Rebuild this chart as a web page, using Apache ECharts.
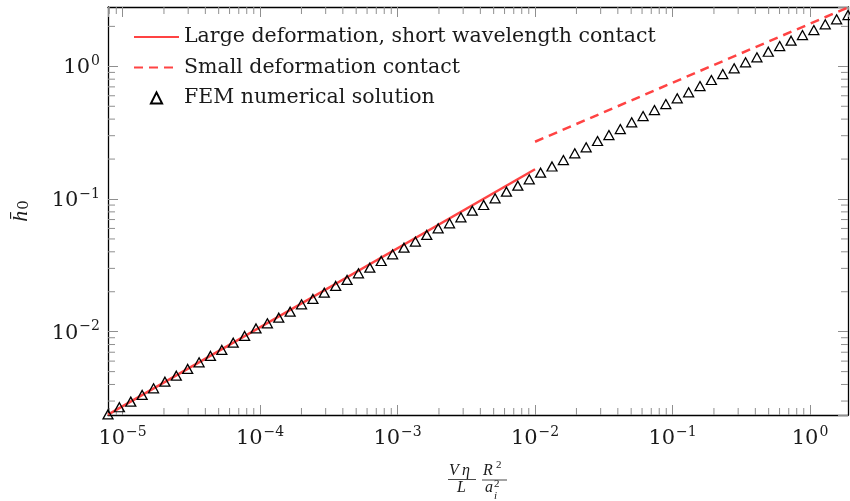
<!DOCTYPE html>
<html>
<head>
<meta charset="utf-8">
<script src="https://cdn.jsdelivr.net/npm/echarts@6/dist/echarts.min.js"></script>
<style>html,body{margin:0;padding:0;background:#fff;}#c{width:850px;height:501px;}</style>
</head>
<body>
<div id="c"></div>
<script>
// ---- data ----
const xMin = 7.834e-6, xMax = 1.888;
const yMin = 0.002355, yMax = 2.80;

const largeX = [7.834e-6, 1.0e-2];
const largeY = [0.00237, 0.1675];

const smallX = [1.0e-2, 1.888];
const smallY = [0.270, 2.78];

const femX = [7.834e-6, 9.480e-6, 1.1471e-5, 1.3880e-5, 1.6795e-5, 2.0324e-5, 2.4593e-5, 2.9758e-5, 3.6009e-5, 4.3573e-5,
  5.2723e-5, 6.3797e-5, 7.7197e-5, 9.341e-5, 1.1303e-4, 1.3677e-4, 1.6550e-4, 2.0026e-4, 2.4233e-4, 2.9322e-4,
  3.5481e-4, 4.2934e-4, 5.1952e-4, 6.2864e-4, 7.6068e-4, 9.2045e-4, 1.1138e-3, 1.3477e-3, 1.6308e-3, 1.9733e-3,
  2.3878e-3, 2.8894e-3, 3.4963e-3, 4.2306e-3, 5.1192e-3, 6.1944e-3, 7.4955e-3, 9.0700e-3, 1.0975e-2, 1.3280e-2,
  1.6069e-2, 1.9445e-2, 2.3529e-2, 2.8471e-2, 3.4452e-2, 4.1687e-2, 5.0444e-2, 6.1039e-2, 7.3859e-2, 8.9373e-2,
  0.10814, 0.13086, 0.15834, 0.19160, 0.23185, 0.28054, 0.33946, 0.41077, 0.49704, 0.60144,
  0.72778, 0.88064, 1.0656, 1.2894, 1.5603, 1.8880];
const femY = [0.002377, 0.002694, 0.002969, 0.003334, 0.003745, 0.004198, 0.004660, 0.005235, 0.005880, 0.006559,
  0.007278, 0.008265, 0.009281, 0.01057, 0.01157, 0.01275, 0.01415, 0.01609, 0.01764, 0.01967,
  0.02211, 0.02453, 0.02755, 0.03036, 0.03410, 0.03831, 0.04296, 0.04782, 0.05355, 0.06015,
  0.06559, 0.07278, 0.08162, 0.09011, 0.1012, 0.1135, 0.1260, 0.1407, 0.1578, 0.1758,
  0.1967, 0.2211, 0.2453, 0.2736, 0.3036, 0.3369, 0.3784, 0.4221, 0.4685, 0.5198,
  0.5740, 0.6369, 0.7102, 0.7887, 0.8749, 0.9659, 1.072, 1.169, 1.288, 1.422,
  1.559, 1.722, 1.877, 2.073, 2.261, 2.436];

const seriesNames = ['Large deformation, short wavelength contact', 'Small deformation contact', 'FEM numerical solution'];

// minor tick values (mantissas 2..9 of each decade inside the range)
const minorMantissas = [2, 3, 4, 5, 6, 7, 8, 9];
const xDecades = [-6, -5, -4, -3, -2, -1, 0];
const yDecades = [-3, -2, -1, 0];
function minorList(decades, lo, hi) {
  const out = [];
  decades.forEach(d => minorMantissas.forEach(m => {
    const v = m * Math.pow(10, d);
    if (v > lo && v < hi) out.push(v);
  }));
  return out;
}
const xMinorTicks = minorList(xDecades, xMin, xMax);
const yMinorTicks = minorList(yDecades, yMin, yMax);

// ---- chart ----
const FONT = 'DejaVu Serif';
const MFONT = 'Liberation Serif';
const RED = '#ff4343';
const TICK = '#8f8f8f';
const INK = '#1a1a1a';

function supLabel(v) {
  const e = Math.log10(v);
  const r = Math.round(e);
  if (Math.abs(e - r) > 1e-6) return '';
  const s = r < 0 ? '\u2212' + (-r) : String(r);
  return '{b|10}{s|' + s + '}';
}
const labelRich = {
  b: { fontSize: 21, fontFamily: FONT, color: INK, verticalAlign: 'bottom' },
  s: { fontSize: 14, fontFamily: FONT, color: INK, verticalAlign: 'bottom', padding: [0, 0, 10, 1] }
};

function baseAxis(extra) {
  return Object.assign({
    type: 'log',
    logBase: 10,
    axisLine: { show: true, lineStyle: { color: '#000', width: 1.3 } },
    axisTick: { show: true, inside: true, length: 10, lineStyle: { color: TICK, width: 1 } },
    splitLine: { show: false },
    minorTick: { show: false },
    minorSplitLine: { show: false }
  }, extra);
}

const minorLen = 7;
function minorXRender(params, api) {
  const cs = params.coordSys;
  const px = api.coord([api.value(0), yMin])[0];
  const b = cs.y + cs.height, t = cs.y;
  return { type: 'group', silent: true, children: [
    { type: 'line', shape: { x1: px, y1: b, x2: px, y2: b - minorLen }, style: { stroke: TICK, lineWidth: 1 } },
    { type: 'line', shape: { x1: px, y1: t, x2: px, y2: t + minorLen }, style: { stroke: TICK, lineWidth: 1 } }
  ]};
}
function minorYRender(params, api) {
  const cs = params.coordSys;
  const py = api.coord([xMin, api.value(1)])[1];
  const l = cs.x, r = cs.x + cs.width;
  return { type: 'group', silent: true, children: [
    { type: 'line', shape: { x1: l, y1: py, x2: l + minorLen, y2: py }, style: { stroke: TICK, lineWidth: 1 } },
    { type: 'line', shape: { x1: r, y1: py, x2: r - minorLen, y2: py }, style: { stroke: TICK, lineWidth: 1 } }
  ]};
}

const hiddenSymbol = { color: 'transparent', borderColor: 'transparent', borderWidth: 0, opacity: 0 };

const chart = echarts.init(document.getElementById('c'), null, { renderer: 'canvas' });
chart.setOption({
  animation: false,
  backgroundColor: '#fff',
  grid: { left: 108, right: 2, top: 7, bottom: 86, containLabel: false },
  xAxis: [
    baseAxis({ position: 'bottom', min: xMin, max: xMax,
      axisLabel: { show: true, margin: 10, formatter: supLabel, rich: labelRich, showMinLabel: false, showMaxLabel: false } }),
    baseAxis({ position: 'top', min: xMin, max: xMax, axisLabel: { show: false } })
  ],
  yAxis: [
    baseAxis({ position: 'left', min: yMin, max: yMax,
      axisLabel: { show: true, margin: 8, formatter: supLabel, rich: labelRich, showMinLabel: false, showMaxLabel: false },
      name: '{h|h\u0304}{s|0}', nameLocation: 'middle', nameGap: 76, nameRotate: 90,
      nameTextStyle: { rich: {
        h: { fontSize: 22, fontFamily: MFONT, fontStyle: 'italic', color: INK, verticalAlign: 'bottom' },
        s: { fontSize: 15, fontFamily: FONT, color: INK, verticalAlign: 'bottom', padding: [0, 0, 0, 1] }
      } } }),
    baseAxis({ position: 'right', min: yMin, max: yMax, axisLabel: { show: false } })
  ],
  legend: {
    orient: 'vertical', left: 128, top: 20,
    itemWidth: 45, itemHeight: 14, itemGap: 6.5,
    data: [
      { name: seriesNames[0], itemStyle: hiddenSymbol },
      { name: seriesNames[1], itemStyle: hiddenSymbol },
      { name: seriesNames[2] }
    ],
    textStyle: { fontFamily: FONT, fontSize: 20.5, color: INK, lineHeight: 24 }
  },
  graphic: [
    { type: 'text', left: 449, top: 463, style: { text: 'V\u2009\u03b7', font: 'italic 16px "Liberation Serif"', fill: INK } },
    { type: 'line', shape: { x1: 448, y1: 479.5, x2: 476, y2: 479.5 }, style: { stroke: INK, lineWidth: 0.8 } },
    { type: 'text', left: 457, top: 480, style: { text: 'L', font: 'italic 16px "Liberation Serif"', fill: INK } },
    { type: 'text', left: 483, top: 463, style: { text: 'R', font: 'italic 16px "Liberation Serif"', fill: INK } },
    { type: 'text', left: 496, top: 460, style: { text: '2', font: '11px "Liberation Serif"', fill: INK } },
    { type: 'line', shape: { x1: 482, y1: 480, x2: 507, y2: 480 }, style: { stroke: INK, lineWidth: 0.8 } },
    { type: 'text', left: 485, top: 480, style: { text: 'a', font: 'italic 16px "Liberation Serif"', fill: INK } },
    { type: 'text', left: 494, top: 479, style: { text: '2', font: '11px "Liberation Serif"', fill: INK } },
    { type: 'text', left: 494, top: 491, style: { text: 'i', font: 'italic 11px "Liberation Serif"', fill: INK } }
  ],
  series: [
    { name: seriesNames[0], type: 'line', xAxisIndex: 0, yAxisIndex: 0,
      data: largeX.map((x, i) => [x, largeY[i]]), symbol: 'none', clip: true,
      lineStyle: { color: RED, width: 2.5 }, itemStyle: { color: RED }, z: 3 },
    { name: seriesNames[1], type: 'line', xAxisIndex: 0, yAxisIndex: 0,
      data: smallX.map((x, i) => [x, smallY[i]]), symbol: 'none', clip: true,
      lineStyle: { color: RED, width: 2.5, type: [9, 6] }, itemStyle: { color: RED }, z: 3 },
    { name: seriesNames[2], type: 'line', xAxisIndex: 0, yAxisIndex: 0,
      data: femX.map((x, i) => [x, femY[i]]), symbol: 'triangle', symbolSize: [10, 9],
      showSymbol: true, showAllSymbol: true, clip: true,
      lineStyle: { opacity: 0, width: 0 },
      itemStyle: { color: 'transparent', borderColor: '#000', borderWidth: 1.3 }, z: 4 },
    { type: 'custom', xAxisIndex: 0, yAxisIndex: 0, silent: true, clip: false,
      data: xMinorTicks.map(v => [v, yMin]), renderItem: minorXRender, z: 2 },
    { type: 'custom', xAxisIndex: 0, yAxisIndex: 0, silent: true, clip: false,
      data: yMinorTicks.map(v => [xMin, v]), renderItem: minorYRender, z: 2 }
  ]
});
</script>
</body>
</html>
